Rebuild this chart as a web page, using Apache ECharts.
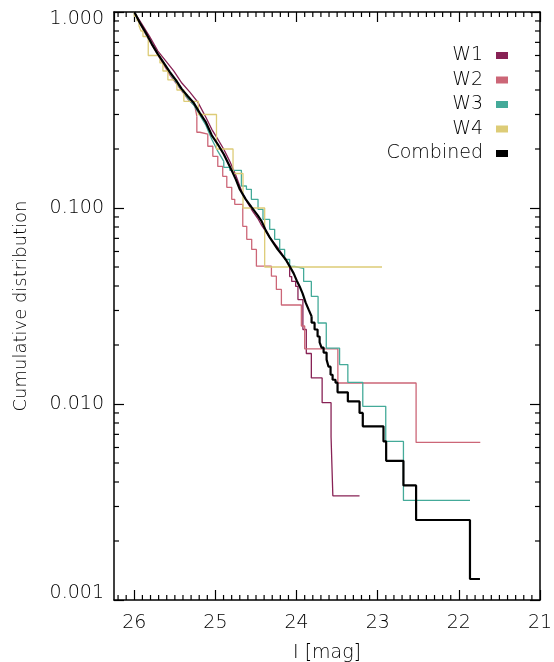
<!DOCTYPE html>
<html>
<head>
<meta charset="utf-8">
<script src="https://cdn.jsdelivr.net/npm/echarts@6/dist/echarts.min.js"></script>
<style>
  html, body { margin: 0; padding: 0; background: #fff; }
  #chart { width: 554px; height: 662px; }
</style>
</head>
<body>
<div id="chart"></div>
<script>
// cumulative distributions, [I mag, fraction].
// "upper" = densely stepped part (steps below pixel size), "tail" = resolved steps
const w1Upper = [[26.00,1.0],[25.906,0.868],[25.807,0.745],[25.709,0.632],[25.61,0.562],[25.512,0.499],[25.414,0.434],[25.315,0.390],[25.217,0.347],[25.118,0.2905],[25.045,0.252],[24.971,0.2244],[24.897,0.1995],[24.823,0.173],[24.749,0.1469],[24.676,0.1217],[24.602,0.1057],[24.54,0.0961],[24.479,0.0886],[24.43,0.0815],[24.38,0.076],[24.331,0.0708],[24.282,0.0668],[24.233,0.063],[24.184,0.0587],[24.134,0.0546],[24.085,0.0509]];
const w1Tail = [[24.085,0.0509],[24.06,0.0447],[24.011,0.0422],[23.983,0.0398],[23.922,0.0341],[23.88,0.024],[23.818,0.0181],[23.685,0.01358],[23.575,0.01016],[23.553,0.0068],[23.224,0.0034]];
const w2Upper = [[26.00,1.0],[25.93,0.868],[25.856,0.763],[25.783,0.678],[25.709,0.603],[25.635,0.536],[25.561,0.476],[25.487,0.434],[25.414,0.395],[25.34,0.359],[25.254,0.331],[25.229,0.294]];
const w2Tail = [[25.229,0.294],[25.192,0.2435],[25.094,0.238],[25.032,0.2066],[24.971,0.1836],[24.91,0.163],[24.86,0.145],[24.799,0.1275],[24.762,0.1107],[24.663,0.1044],[24.614,0.0806],[24.553,0.0692],[24.495,0.0615],[24.31,0.0505],[24.249,0.0449],[24.187,0.0384],[23.941,0.032],[23.9,0.025],[23.491,0.0191],[22.527,0.0128],[21.736,0.00637]];
const w3Upper = [[26.00,1.0],[25.93,0.879],[25.856,0.772],[25.783,0.686],[25.709,0.610],[25.635,0.549],[25.561,0.488],[25.487,0.439],[25.414,0.399],[25.34,0.363],[25.266,0.335],[25.192,0.2975],[25.118,0.2645],[25.045,0.2244],[24.971,0.1949],[24.897,0.173]];
const w3Tail = [[24.897,0.173],[24.823,0.1613],[24.68,0.1557],[24.618,0.1295],[24.557,0.1246],[24.475,0.1107],[24.414,0.0985],[24.331,0.0875],[24.27,0.0778],[24.208,0.0692],[24.147,0.0615],[24.085,0.0546],[24.024,0.0503],[23.913,0.0492],[23.818,0.0422],[23.735,0.0354],[23.634,0.0259],[23.47,0.0193],[23.368,0.0159],[23.184,0.0129],[22.901,0.00973],[22.683,0.00644],[21.863,0.00322]];
const w4Upper = [];
const w4Tail = [[26.00,1.0],[25.967,0.95],[25.942,0.9],[25.918,0.85],[25.893,0.8],[25.828,0.75],[25.684,0.6],[25.647,0.55],[25.586,0.5],[25.475,0.45],[25.389,0.4],[25.211,0.35],[24.987,0.3],[24.783,0.2],[24.66,0.15],[24.393,0.1],[22.947,0.05]];
const combinedUpper = [[26.00,1.0],[25.93,0.879],[25.856,0.781],[25.783,0.686],[25.709,0.610],[25.635,0.549],[25.561,0.494],[25.487,0.449],[25.414,0.404],[25.34,0.372],[25.266,0.343],[25.192,0.305],[25.118,0.274],[25.045,0.235],[24.971,0.2115],[24.897,0.188],[24.823,0.163],[24.749,0.140],[24.70,0.1246],[24.626,0.1107],[24.553,0.1008],[24.479,0.0917],[24.43,0.0855],[24.38,0.0769],[24.331,0.0708],[24.282,0.066],[24.233,0.0615],[24.184,0.058],[24.134,0.0546],[24.085,0.0504],[24.036,0.0464],[23.999,0.0427],[23.962,0.0398],[23.925,0.0366],[23.888,0.0329],[23.851,0.0303],[23.815,0.028]];
const combinedTail = [[23.815,0.028],[23.778,0.026],[23.741,0.024],[23.716,0.0221],[23.692,0.0206],[23.667,0.0194],[23.63,0.0183],[23.606,0.01685],[23.581,0.0155],[23.556,0.0141],[23.52,0.0133],[23.495,0.01285],[23.368,0.01147],[23.224,0.01031],[23.184,0.0090],[22.929,0.00769],[22.896,0.00644],[22.683,0.00513],[22.527,0.00384],[21.863,0.00256],[21.74,0.00128]];

const seriesNames = ['W1', 'W2', 'W3', 'W4', 'Combined'];
const seriesColors = ['#882255', '#CC6677', '#44AA99', '#DDCC77', '#000000'];
const upperParts = [w1Upper, w2Upper, w3Upper, w4Upper, combinedUpper];
const tailParts = [w1Tail, w2Tail, w3Tail, w4Tail, combinedTail];

// axis ranges
const xMin = 21, xMax = 26.25;
const yMin = 0.001, yMax = 1;

// minor tick positions (0.1 mag steps, 2..9 per decade)
const xMinorTicks = [];
for (let i = 211; i <= 262; i++) {
  if (i % 10 !== 0) xMinorTicks.push(i / 10);
}
const yMinorTicks = [];
[0.001, 0.01, 0.1].forEach(d => {
  for (let k = 2; k <= 9; k++) yMinorTicks.push(+(k * d).toPrecision(3));
});

const FONT = 'DejaVu Sans';
const TXT = '#000';

const chart = echarts.init(document.getElementById('chart'));

function lineEl(x1, y1, x2, y2) {
  return { type: 'line', shape: { x1, y1, x2, y2 }, style: { stroke: '#000', lineWidth: 1.2 } };
}

function curve(i, data, step) {
  const isComb = i === 4;
  return {
    name: seriesNames[i],
    type: 'line',
    step: step,
    data: data,
    symbol: 'none',
    showSymbol: false,
    z: isComb ? 5 : 3,
    lineStyle: { color: seriesColors[i], width: isComb ? 2.2 : 1.3 },
    itemStyle: { color: seriesColors[i] },
    emphasis: { disabled: true }
  };
}

const curveSeries = [];
seriesNames.forEach((n, i) => {
  if (upperParts[i].length) curveSeries.push(curve(i, upperParts[i], false));
  curveSeries.push(curve(i, tailParts[i], 'start'));
});

function frameAxis(extra) {
  return Object.assign({
    axisLine: { show: true, onZero: false, lineStyle: { color: '#000', width: 1.5 } },
    axisTick: { show: true, inside: true, length: 10, lineStyle: { color: '#000', width: 1.2 } },
    splitLine: { show: false }
  }, extra);
}

const option = {
  animation: false,
  grid: { left: 114, right: 14, top: 12, bottom: 62, outerBoundsMode: 'none' },
  legend: {
    data: seriesNames,
    orient: 'vertical',
    right: 41,
    top: 41,
    align: 'right',
    icon: 'rect',
    itemWidth: 12,
    itemHeight: 7,
    itemGap: 5.5,
    selectedMode: false,
    textStyle: { fontFamily: FONT, fontWeight: 200, fontSize: 19, color: TXT, lineHeight: 19, padding: [0, 8, 0, 0] }
  },
  xAxis: [frameAxis({
    type: 'value', min: xMin, max: xMax, interval: 1, inverse: true, position: 'bottom',
    name: 'I [mag]', nameLocation: 'middle', nameGap: 44,
    nameTextStyle: { fontFamily: FONT, fontWeight: 200, fontSize: 19, color: TXT },
    axisLabel: {
      margin: 14, fontFamily: FONT, fontWeight: 200, fontSize: 19, color: TXT, showMaxLabel: false,
      formatter: v => Number.isInteger(v) ? String(v) : ''
    }
  }), frameAxis({
    type: 'value', min: xMin, max: xMax, interval: 1, inverse: true, position: 'top',
    axisLabel: { show: false }
  })],
  yAxis: [frameAxis({
    type: 'log', logBase: 10, min: yMin, max: yMax, position: 'left',
    name: 'Cumulative distribution', nameLocation: 'middle', nameGap: 84,
    nameTextStyle: { fontFamily: FONT, fontWeight: 200, fontSize: 18, color: TXT },
    axisLabel: {
      margin: 10, fontFamily: FONT, fontWeight: 200, fontSize: 19, color: TXT, lineHeight: 14,
      verticalAlignMaxLabel: 'top', verticalAlignMinLabel: 'bottom',
      formatter: v => v.toFixed(3)
    }
  }), frameAxis({
    type: 'log', logBase: 10, min: yMin, max: yMax, position: 'right',
    axisLabel: { show: false }
  })],
  series: curveSeries.concat([{
    type: 'custom',
    z: 10,
    data: yMinorTicks.map(v => [xMax, v]),
    renderItem: (params, api) => {
      const v = api.value(1);
      const l = api.coord([xMax, v]);
      const r = api.coord([xMin, v]);
      return { type: 'group', children: [lineEl(l[0], l[1], l[0] + 5, l[1]), lineEl(r[0], r[1], r[0] - 5, r[1])] };
    }
  }, {
    type: 'custom',
    z: 10,
    data: xMinorTicks.map(m => [m, yMax]),
    renderItem: (params, api) => {
      const m = api.value(0);
      const t = api.coord([m, yMax]);
      const b = api.coord([m, yMin]);
      return { type: 'group', children: [lineEl(t[0], t[1], t[0], t[1] + 5), lineEl(b[0], b[1], b[0], b[1] - 5)] };
    }
  }])
};

chart.setOption(option);
</script>
</body>
</html>
